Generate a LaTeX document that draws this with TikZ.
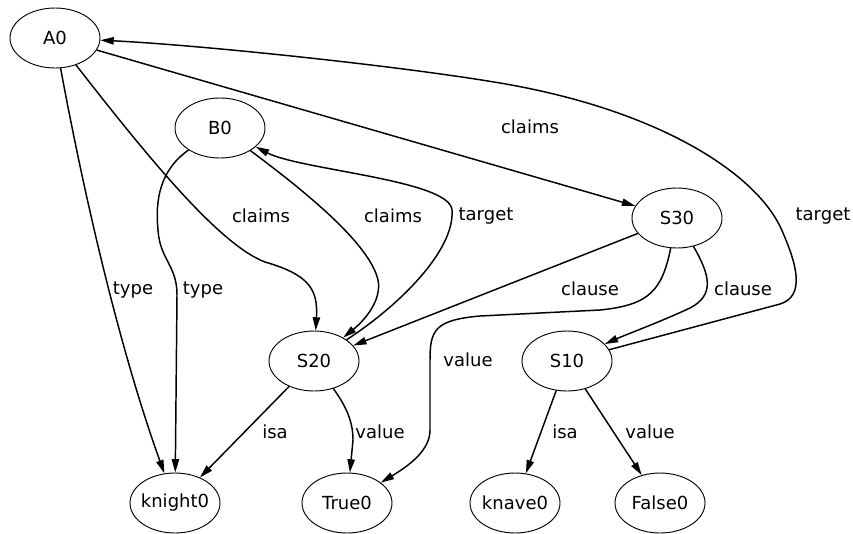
\documentclass[tikz,border=0pt]{standalone}
\usepackage{fontspec}
\setmainfont{DejaVu Sans}
\usetikzlibrary{arrows.meta,
                shapes.geometric}

\tikzset{
    entity/.style={draw, ellipse, line width=0.7pt, minimum width=67.5pt,
                   minimum height=45pt, inner xsep=-2pt, inner ysep=0pt},
    rel/.style={-{Triangle[length=10pt, width=5.5pt]}, line width=1.1pt},
    lbl/.style={inner sep=1pt}
}

\begin{document}
\begin{tikzpicture}[x=0.75pt, y=-0.75pt, font=\fontsize{13.5}{16}\selectfont]
        \useasboundingbox (0,0) rectangle (853,533);

        % entities
        \node [entity] (A0) at (55,38) {A0};
        \node [entity] (B0) at (220,128) {B0};
        \node [entity] (S30) at (677,218) {S30};
        \node [entity] (S20) at (314,361) {S20};
        \node [entity] (S10) at (567,361) {S10};
        \node [entity] (knight0) at (175,503) {knight0};
        \node [entity] (True0) at (347,503) {True0};
        \node [entity] (knave0) at (515,503) {knave0};
        \node [entity] (False0) at (660,503) {False0};

        % relations
        \draw [rel] (A0) .. controls (85,200) and (120,350) .. (knight0);
        \draw [rel] (B0) .. controls (160,170) and (155,200) .. (158,230)
            .. controls (160,260) and (177,265) .. (177,295) -- (knight0);
        \draw [rel] (A0) .. controls (150,160) and (220,245) .. (265,262)
            .. controls (310,275) and (318,290) .. (S20);
        \draw [rel] (B0) .. controls (310,195) and (370,245) .. (378,280)
            .. controls (382,300) and (365,320) .. (S20);
        \draw [rel] (S20) .. controls (400,305) and (455,250) .. (452,210)
            .. controls (450,180) and (300,170) .. (B0);
        \draw [rel] (A0) -- (S30);
        \draw [rel] (S10) -- (780,304) .. controls (806,296) and (796,263) .. (783,233)
            .. controls (760,175) and (660,110) .. (500,83)
            .. controls (400,66) and (200,45) .. (A0);
        \draw [rel] (S30) -- (S20);
        \draw [rel] (S30) .. controls (710,275) and (715,295) .. (690,308)
            .. controls (660,322) and (625,335) .. (S10);
        \draw [rel] (S30) .. controls (662,290) and (650,305) .. (600,310) -- (480,316)
            .. controls (435,320) and (430,330) .. (430,360) -- (430,430)
            .. controls (430,450) and (410,465) .. (True0);
        \draw [rel] (S20) -- (knight0);
        \draw [rel] (S20) .. controls (345,405) and (353,420) .. (353,440) -- (True0);
        \draw [rel] (S10) -- (knave0);
        \draw [rel] (S10) -- (False0);

        % labels
        \node [lbl] (typeA) at (133,290) {type};
        \node [lbl] (typeB) at (203,290) {type};
        \node [lbl] (claimsA) at (261,216) {claims};
        \node [lbl] (claimsB) at (393,216) {claims};
        \node [lbl] (targetB) at (486,216) {target};
        \node [lbl] (claimsS) at (530,127) {claims};
        \node [lbl] (targetA) at (823,216) {target};
        \node [lbl] (clauseL) at (590,289) {clause};
        \node [lbl] (clauseR) at (743,289) {clause};
        \node [lbl] (valueS) at (468,360) {value};
        \node [lbl] (isaK) at (275,432) {isa};
        \node [lbl] (valueT) at (380,432) {value};
        \node [lbl] (isaN) at (565,432) {isa};
        \node [lbl] (valueF) at (650,432) {value};
    \end{tikzpicture}
\end{document}
